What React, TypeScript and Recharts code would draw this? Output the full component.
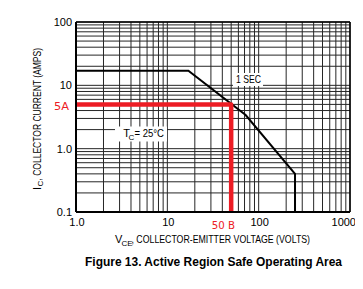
import React from 'react';
import { LineChart, Line, XAxis, YAxis, CartesianGrid, ReferenceLine } from 'recharts';

// ---- data ----
const xTicks = [1, 2, 3, 4, 5, 6, 7, 8, 9, 10, 20, 30, 40, 50, 60, 70, 80, 90, 100, 200, 300, 400, 500, 600, 700, 800, 900, 1000];
const yTicks = [0.1, 0.2, 0.3, 0.4, 0.5, 0.6, 0.7, 0.8, 0.9, 1, 2, 3, 4, 5, 6, 7, 8, 9, 10, 20, 30, 40, 50, 60, 70, 80, 90, 100];
const xTickLabels: Record<number, string> = { 1: '1.0', 10: '10', 100: '100', 1000: '1000' };
const yTickLabels: Record<number, string> = { 0.1: '0.1', 1: '1.0', 10: '10', 100: '100' };

// 1 SEC safe operating area boundary (volts, amps)
const soaVolts = [1, 17, 72, 250, 250];
const soaAmps = [17, 17, 3.4, 0.4, 0.1];

// hand-drawn red marker: 5 A up to 50 V
const markVolts = [1, 50, 50];
const markAmps = [5, 5, 0.1];

const soaData = soaVolts.map((v, i) => ({ v, a: soaAmps[i] }));
const markData = markVolts.map((v, i) => ({ v, a: markAmps[i] }));

const RED = '#ed1c24';
const NARROW = "'Liberation Sans Narrow', 'Arial Narrow', 'Liberation Sans', Arial, sans-serif";
const SANS = "'Liberation Sans', Arial, sans-serif";
const HAND = "'DejaVu Sans', sans-serif";

const XTick = (props: any) => {
  const { x, y, payload } = props;
  const label = xTickLabels[payload.value];
  if (!label) return null;
  const isLast = payload.value === 1000;
  return (
    <text
      x={isLast ? x + 6 : x + 1}
      y={y + 6}
      dy="0.71em"
      textAnchor={isLast ? 'end' : 'middle'}
      fontFamily={NARROW}
      fontSize={11}
      fill="#000"
    >
      {label}
    </text>
  );
};

const YTick = (props: any) => {
  const { x, y, payload } = props;
  const label = yTickLabels[payload.value];
  if (!label) return null;
  return (
    <text x={x} y={y} dy="0.355em" textAnchor="end" fontFamily={NARROW} fontSize={11} fill="#000">
      {label}
    </text>
  );
};

export default function App() {
  const W = 355;
  const H = 281;
  return (
    <div style={{ position: 'relative', width: W, height: H }}>
      <LineChart width={W} height={H} margin={{ top: 14, right: 13, bottom: 57, left: 0 }}>
        <CartesianGrid stroke="#262626" strokeWidth={1} />
        <XAxis
          type="number"
          dataKey="v"
          scale="log"
          domain={[1, 1000]}
          allowDataOverflow
          ticks={xTicks}
          interval={0}
          tickLine={false}
          tickSize={0}
          tickMargin={0}
          height={20}
          axisLine={{ stroke: '#000', strokeWidth: 2 }}
          tick={<XTick />}
        />
        <YAxis
          type="number"
          dataKey="a"
          scale="log"
          domain={[0.1, 100]}
          allowDataOverflow
          ticks={yTicks}
          interval={0}
          tickLine={false}
          tickSize={0}
          tickMargin={4}
          width={68}
          axisLine={{ stroke: '#000', strokeWidth: 2 }}
          tick={<YTick />}
        />
        <ReferenceLine y={100} stroke="#000" strokeWidth={1.5} />
        <ReferenceLine x={1000} stroke="#000" strokeWidth={1.5} />
        <Line
          data={soaData}
          dataKey="a"
          type="linear"
          stroke="#000"
          strokeWidth={2}
          dot={false}
          isAnimationActive={false}
        />
        <Line
          data={markData}
          dataKey="a"
          type="linear"
          stroke={RED}
          strokeWidth={4.5}
          strokeLinejoin="round"
          strokeLinecap="round"
          dot={false}
          isAnimationActive={false}
        />
      </LineChart>
      <svg
        width={W}
        height={H}
        style={{ position: 'absolute', left: 0, top: 0, pointerEvents: 'none' }}
      >
        {/* annotation boxes */}
        <rect x={225} y={65} width={30} height={13} fill="#fff" />
        <text x={228} y={75.3} fontFamily={NARROW} fontSize={11} fill="#000" textLength={25} lengthAdjust="spacingAndGlyphs">
          1 SEC
        </text>
        <rect x={107} y={118.5} width={52} height={15} fill="#fff" />
        <text x={115.3} y={129.3} fontFamily={NARROW} fontSize={11} fill="#000">T</text>
        <text x={120.6} y={131.8} fontFamily={NARROW} fontSize={8} fill="#000">C</text>
        <text x={126.5} y={129.3} fontFamily={NARROW} fontSize={11} fill="#000" textLength={29.5} lengthAdjust="spacingAndGlyphs">
          = 25°C
        </text>

        {/* red hand annotations */}
        <text x={46} y={102} fontFamily={HAND} fontSize={11} fill={RED} textLength={15} lengthAdjust="spacingAndGlyphs">
          5A
        </text>
        <text x={203.7} y={221.3} fontFamily={HAND} fontSize={11} fill={RED} textLength={23.3} lengthAdjust="spacingAndGlyphs">
          50 B
        </text>

        {/* x axis title */}
        <text x={107} y={235} fontFamily={NARROW} fontSize={11} fill="#000">V</text>
        <text x={113.5} y={237.5} fontFamily={NARROW} fontSize={8} fill="#000">CE</text>
        <text x={123.5} y={235} fontFamily={NARROW} fontSize={11} fill="#000" textLength={178.5} lengthAdjust="spacingAndGlyphs">
          , COLLECTOR-EMITTER VOLTAGE (VOLTS)
        </text>

        {/* y axis title (rotated) */}
        <text transform="translate(32.5,182) rotate(-90)" fontFamily={NARROW} fontSize={11} fill="#000">I</text>
        <text transform="translate(35,178.5) rotate(-90)" fontFamily={NARROW} fontSize={8} fill="#000">C</text>
        <text
          transform="translate(32.5,172.5) rotate(-90)"
          fontFamily={NARROW}
          fontSize={11}
          fill="#000"
          textLength={132.5}
          lengthAdjust="spacingAndGlyphs"
        >
          , COLLECTOR CURRENT (AMPS)
        </text>

        {/* figure caption */}
        <text x={77} y={258} fontFamily={SANS} fontWeight="bold" fontSize={12} fill="#000" textLength={257} lengthAdjust="spacingAndGlyphs">
          Figure 13. Active Region Safe Operating Area
        </text>
      </svg>
    </div>
  );
}
